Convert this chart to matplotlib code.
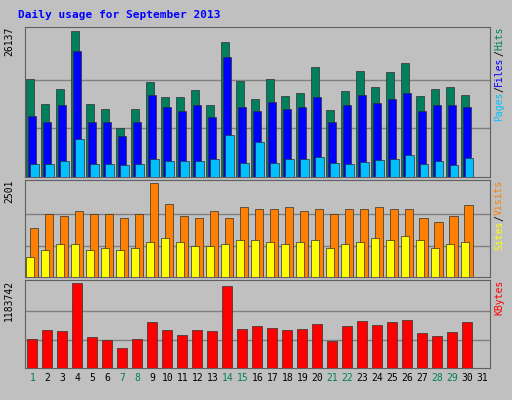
import matplotlib
matplotlib.use("Agg")
import matplotlib.pyplot as plt
import numpy as np

days = list(range(1, 32))
hits = [17542,13067,15752,26137,13067,12172,8771,12172,17005,14320,14320,15573,12888,24165,17184,13962,17542,14499,15036,19690,11993,15394,18974,16110,18795,20406,14499,15752,16110,14678,0]
files = [10919,9845,12888,22554,9845,9845,7339,9845,14678,12530,11814,12888,10740,21480,12530,11814,13425,12172,12530,14320,9845,12888,14678,13246,13962,15036,11814,12888,12888,12530,0]
pages = [2327,2327,2864,6802,2327,2327,2148,2327,3222,2864,2864,2864,3222,7518,2506,6265,2506,3222,3222,3580,2506,2327,2685,3043,3222,3938,2327,2864,2148,3401,0]
visits = [1305,1685,1631,1740,1685,1685,1577,1685,2501,1930,1631,1577,1740,1577,1849,1794,1794,1849,1740,1794,1685,1794,1794,1849,1794,1794,1577,1468,1631,1903,0]
sites = [544,707,870,870,707,761,707,761,924,1033,924,816,816,870,979,979,924,870,924,979,761,870,924,1033,979,1088,979,761,870,924,0]
kbytes = [408668,521404,507312,1183742,422760,394576,281840,408668,634140,521404,450944,521404,507312,1141452,535496,577772,549588,521404,535496,605956,380484,577772,648232,591864,634140,662324,479128,436852,493220,634140,0]
weekends = [1,7,8,14,15,21,22,28,29]
title = "Daily usage for September 2013"

fig = plt.figure(figsize=(5.12, 4.0), dpi=100)
fig.patch.set_facecolor("#C0C0C0")
d = np.array(days)
mono = "DejaVu Sans Mono"

def panel(rect, ymax, label):
    ax = fig.add_axes(rect)
    ax.set_facecolor("#C0C0C0")
    ax.set_xlim(0.5, 31.5)
    ax.set_ylim(0, ymax * 1.03)
    ax.set_yticks([ymax / 3, 2 * ymax / 3])
    ax.set_yticklabels([])
    ax.tick_params(length=0)
    ax.grid(axis="y", color="#808080", lw=1)
    ax.set_axisbelow(True)
    ax.set_xticks([])
    for s in ax.spines.values():
        s.set_color("#606060")
    ax.text(-0.035, 1.0, label, transform=ax.transAxes, rotation=90, ha="center", va="top",
            fontsize=7, family=mono)
    return ax

def bars(ax, x, vals, color, w=0.55):
    ax.bar(x, vals, width=w, align="edge", color=color, edgecolor="#303030", lw=0.5, zorder=3)

a1 = panel([0.049, 0.5575, 0.908, 0.375], max(hits), str(max(hits)))
bars(a1, d - 0.45, hits, "#00805C")
bars(a1, d - 0.30, files, "#0000FF")
bars(a1, d - 0.15, pages, "#00C0FF")

a2 = panel([0.049, 0.3075, 0.908, 0.2425], max(visits), str(max(visits)))
bars(a2, d - 0.20, visits, "#FF8000")
bars(a2, d - 0.45, sites, "#FFFF00")

a3 = panel([0.049, 0.08, 0.908, 0.22], max(kbytes), str(max(kbytes)))
bars(a3, d - 0.35, kbytes, "#FF0000", w=0.62)

for i in days:
    a3.text(i, -0.06, str(i), transform=a3.get_xaxis_transform(), ha="center", va="top",
            fontsize=7, family=mono, color="#00805C" if i in weekends else "#000000")

fig.canvas.draw()
renderer = fig.canvas.get_renderer()

def side(ax, parts):
    pos = ax.get_position()
    x = pos.x1 + 0.018
    y = pos.y1
    for txt, col in parts:
        t = fig.text(x, y, txt, rotation=90, ha="center", va="top",
                     fontsize=7, family=mono, color=col)
        bb = t.get_window_extent(renderer)
        y -= bb.height / fig.bbox.height

side(a1, [("Hits", "#00805C"), ("/", "#000000"), ("Files", "#0000FF"), ("/", "#000000"), ("Pages", "#00C0FF")])
side(a2, [("Visits", "#FF8000"), ("/", "#000000"), ("Sites", "#FFFF00")])
side(a3, [("KBytes", "#FF0000")])

fig.text(0.035, 0.963, title, fontsize=8, family=mono, weight="bold", color="#0000FF", va="center")
fig.savefig("out.png", dpi=100, facecolor=fig.get_facecolor())
